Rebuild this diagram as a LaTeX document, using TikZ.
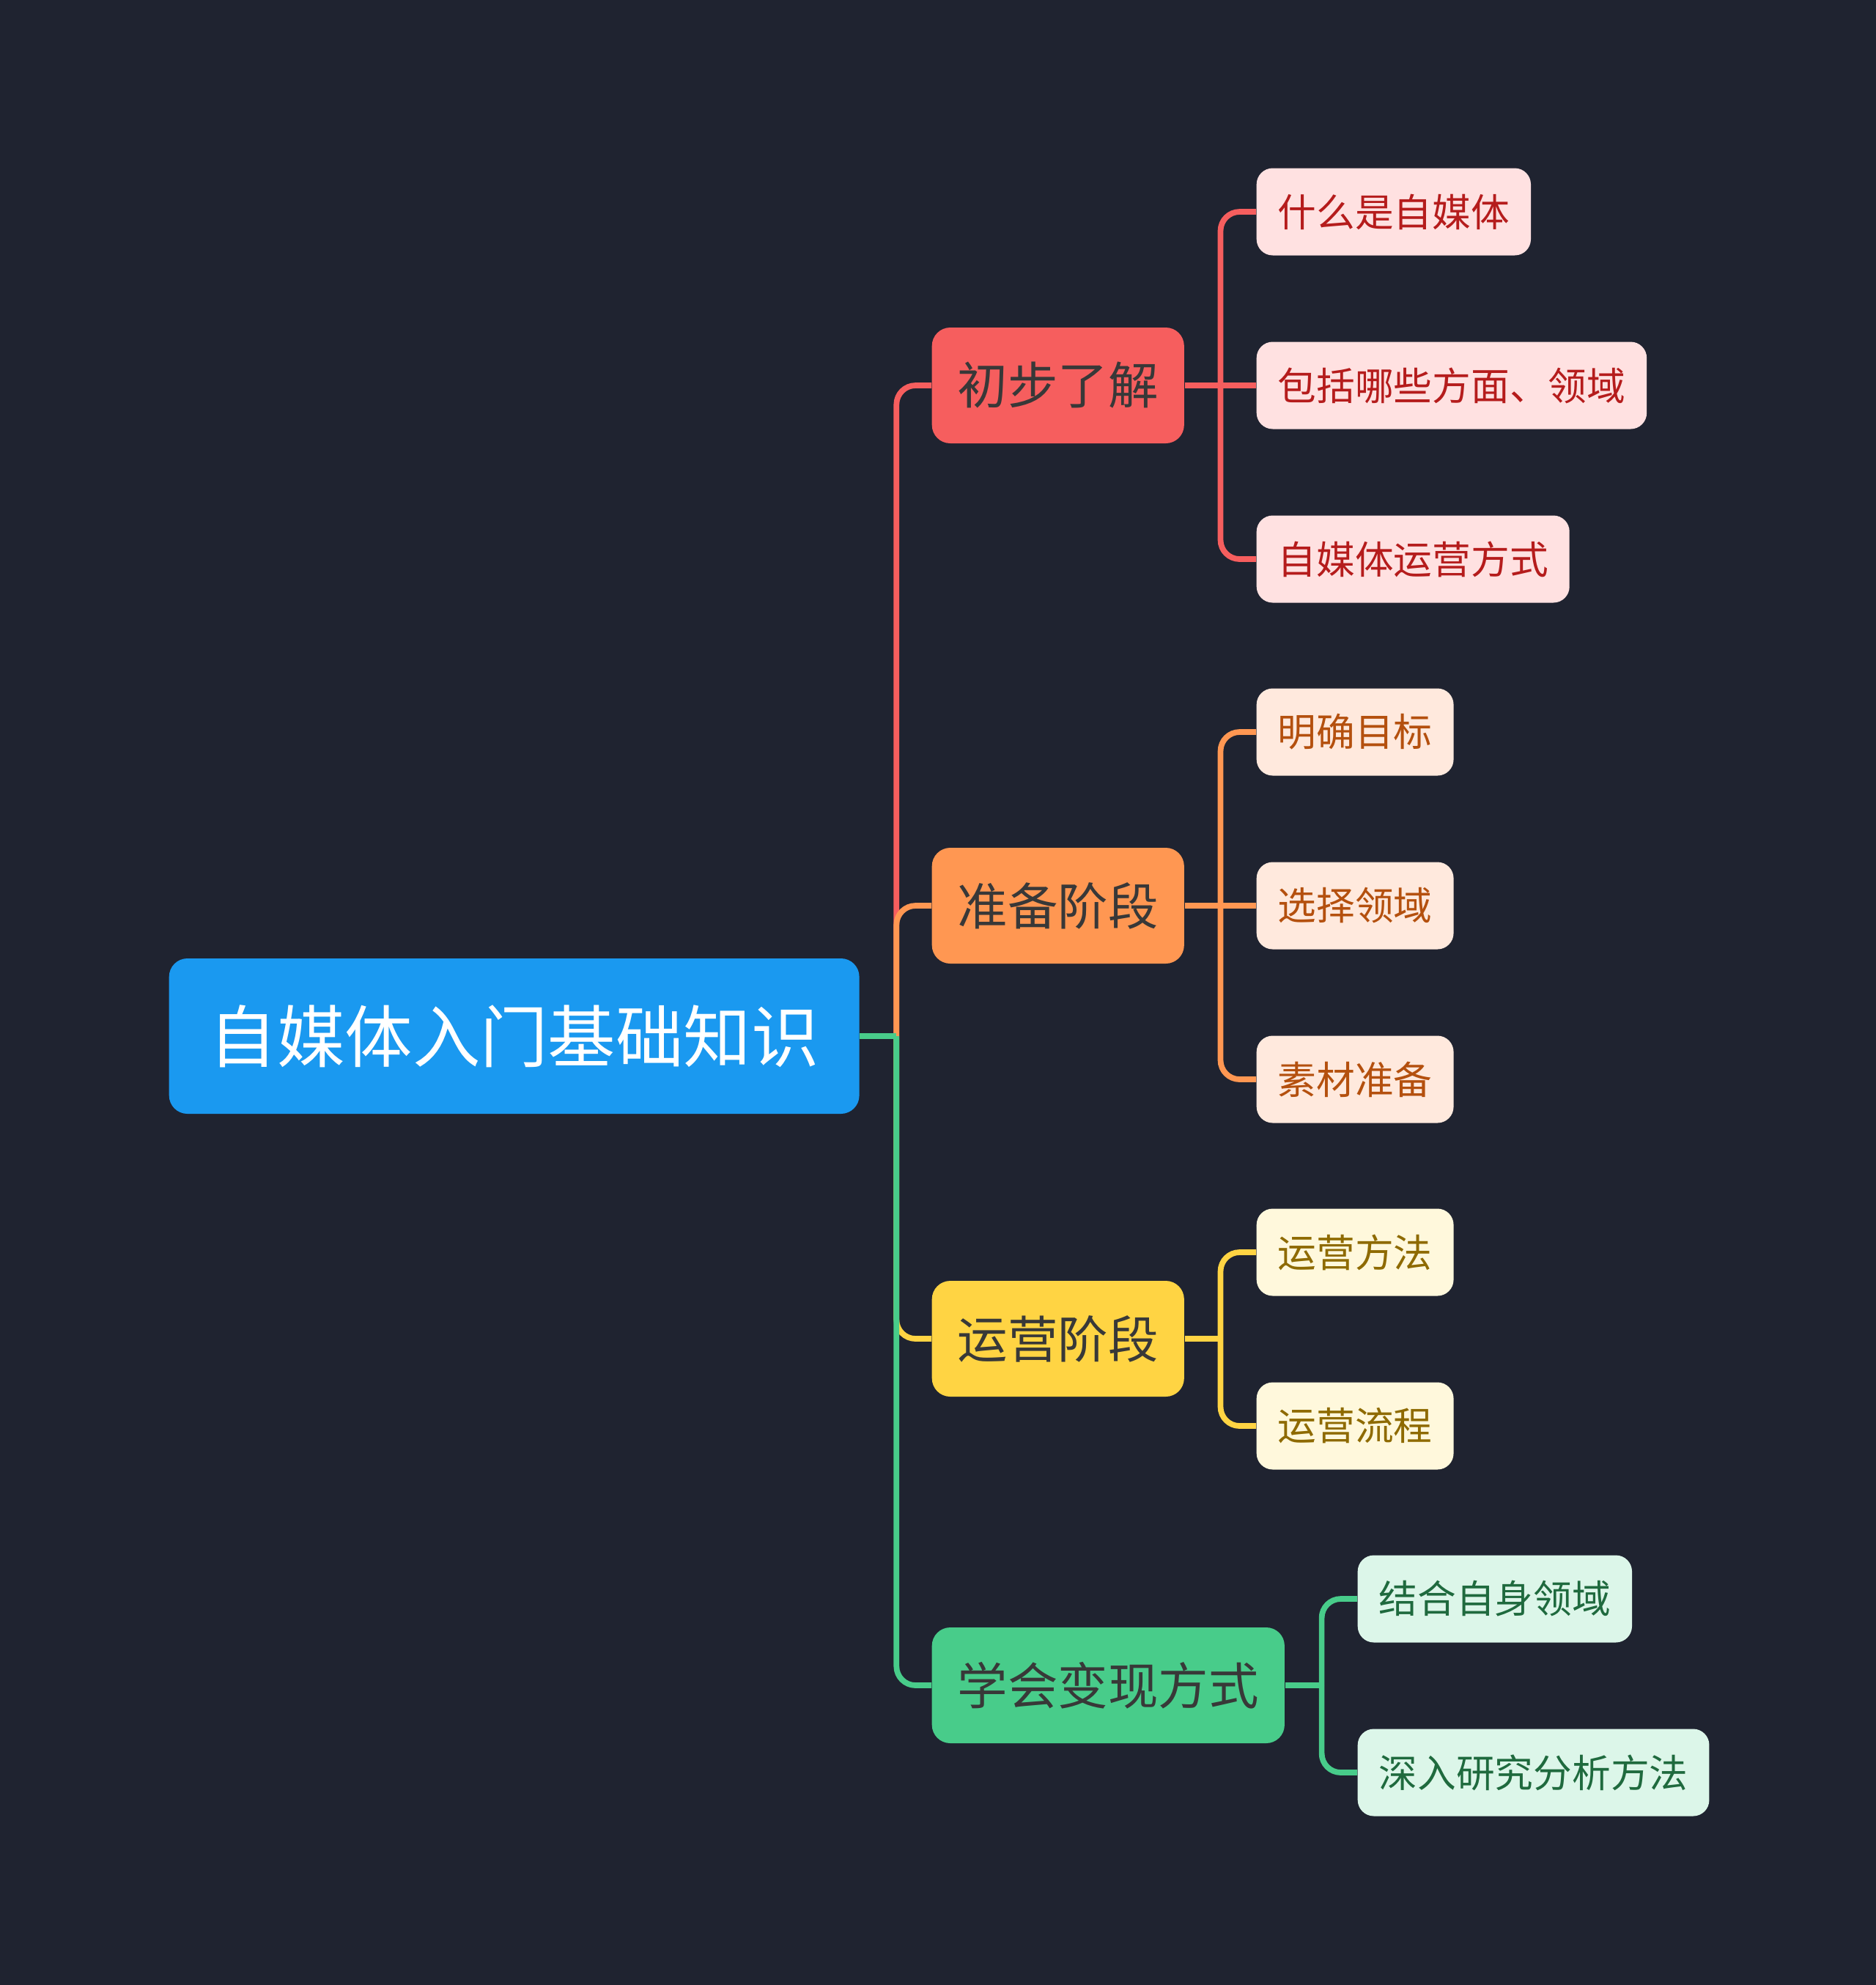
\documentclass[tikz,border=0pt]{standalone}
\usepackage{fontspec}
\usepackage{tikz}
\usetikzlibrary{positioning}
\setmainfont{Noto Sans CJK SC}
\definecolor{bgdark}{HTML}{1F2330}
\definecolor{rootblue}{HTML}{1A99F0}
\definecolor{topictext}{HTML}{383838}
\definecolor{redmain}{HTML}{F65E5E}
\definecolor{redsoft}{HTML}{FFE1E1}
\definecolor{redtext}{HTML}{B51C1C}
\definecolor{orangemain}{HTML}{FF9752}
\definecolor{orangesoft}{HTML}{FFE9DD}
\definecolor{orangetext}{HTML}{B4500E}
\definecolor{yellowmain}{HTML}{FFD443}
\definecolor{yellowsoft}{HTML}{FFF8DC}
\definecolor{yellowtext}{HTML}{8E6A00}
\definecolor{greenmain}{HTML}{48CC8A}
\definecolor{greensoft}{HTML}{DCF6E9}
\definecolor{greentext}{HTML}{1F6A3E}

\begin{document}
\begin{tikzpicture}[
    rootbox/.style={rounded corners=0.25cm, fill=rootblue, text=white,
      font=\fontsize{26.3}{30}\selectfont, inner xsep=0.55cm, inner ysep=0pt,
      minimum height=2.12cm, anchor=west},
    topic/.style={rounded corners=0.25cm, text=topictext,
      font=\fontsize{19.5}{23}\selectfont, inner xsep=0.35cm, inner ysep=0pt,
      minimum height=1.58cm, anchor=west},
    leaf/.style={rounded corners=0.22cm, font=\fontsize{15}{18}\selectfont,
      inner xsep=0.29cm, inner ysep=0pt, minimum height=1.19cm, anchor=west},
    link/.style={line width=2.2pt, rounded corners=0.26cm}]
    \fill[bgdark] (0,0) rectangle (25.6,-27.09);

    % root
    \node[rootbox] (root) at (2.30,-14.14) {自媒体入门基础知识};

    % topics
    \node[topic, fill=redmain] (know) at (12.71,-5.26) {初步了解};
    \node[topic, fill=orangemain] (prep) at (12.71,-12.36) {准备阶段};
    \node[topic, fill=yellowmain] (oper) at (12.71,-18.27) {运营阶段};
    \node[topic, fill=greenmain] (earn) at (12.71,-23.00) {学会变现方式};

    % 初步了解
    \node[leaf, fill=redsoft, text=redtext] (what) at (17.14,-2.89) {什么是自媒体};
    \node[leaf, fill=redsoft, text=redtext] (scope) at (17.14,-5.26) {包括哪些方面、领域};
    \node[leaf, fill=redsoft, text=redtext] (mode) at (17.14,-7.63) {自媒体运营方式};

    % 准备阶段
    \node[leaf, fill=orangesoft, text=orangetext] (goal) at (17.14,-9.99) {明确目标};
    \node[leaf, fill=orangesoft, text=orangetext] (field) at (17.14,-12.36) {选择领域};
    \node[leaf, fill=orangesoft, text=orangetext] (stuff) at (17.14,-14.73) {素材准备};

    % 运营阶段
    \node[leaf, fill=yellowsoft, text=yellowtext] (method) at (17.14,-17.09) {运营方法};
    \node[leaf, fill=yellowsoft, text=yellowtext] (flow) at (17.14,-19.46) {运营流程};

    % 学会变现方式
    \node[leaf, fill=greensoft, text=greentext] (own) at (18.52,-21.82) {结合自身领域};
    \node[leaf, fill=greensoft, text=greentext] (study) at (18.52,-24.19) {深入研究分析方法};

    % junctions
    \coordinate (rj) at ([xshift=0.5cm]root.east);
    \coordinate (kj) at ([xshift=0.49cm]know.east);
    \coordinate (pj) at ([xshift=0.49cm]prep.east);
    \coordinate (oj) at ([xshift=0.49cm]oper.east);
    \coordinate (ej) at ([xshift=0.5cm]earn.east);

    % links
    \draw[link, redmain] (rj) |- (know.west);
    \draw[link, orangemain] (rj) |- (prep.west);
    \draw[link, yellowmain] (rj) |- (oper.west);
    \draw[link, greenmain] (rj) |- (earn.west);
    \draw[link, greenmain] (root.east) -- (rj);
    \draw[link, redmain] (know.east) -- (scope.west);
    \foreach \c in {what,mode}
      \draw[link, redmain] (kj) |- (\c.west);
    \draw[link, orangemain] (prep.east) -- (field.west);
    \foreach \c in {goal,stuff}
      \draw[link, orangemain] (pj) |- (\c.west);
    \draw[link, yellowmain] (oper.east) -- (oj);
    \foreach \c in {method,flow}
      \draw[link, yellowmain] (oj) |- (\c.west);
    \draw[link, greenmain] (earn.east) -- (ej);
    \foreach \c in {own,study}
      \draw[link, greenmain] (ej) |- (\c.west);
  \end{tikzpicture}
\end{document}
